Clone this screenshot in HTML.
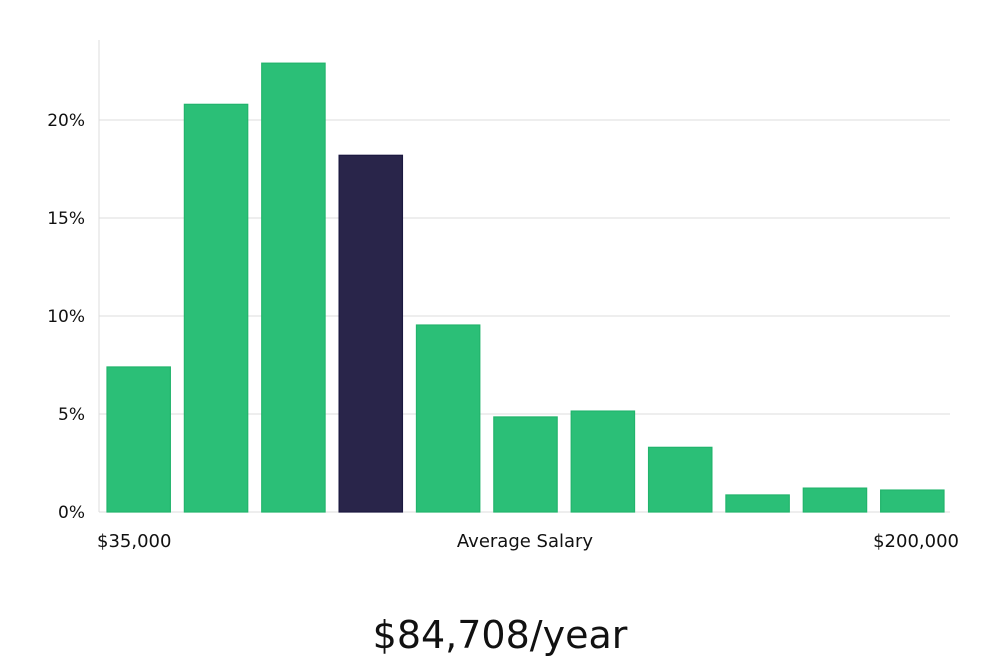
<!DOCTYPE html>
<html><head><meta charset="utf-8"><style>
html,body{margin:0;padding:0;background:#fff;width:1000px;height:660px;overflow:hidden}
svg{display:block}
text{font-family:"DejaVu Sans","Liberation Sans",sans-serif;fill:#111}
</style></head><body>
<svg id="chart" width="1000" height="660" xmlns="http://www.w3.org/2000/svg"></svg>
<script>
const values = [7.4, 20.8, 22.9, 18.2, 9.54, 4.85, 5.15, 3.3, 0.87, 1.22, 1.12];
const highlightIndex = [3];
const yTicks = [0, 5, 10, 15, 20];
const xLabels = ["$35,000", "Average Salary", "$200,000"];
const summaryText = ["$84,708/year"];

const svg = document.getElementById('chart');
const NS = 'http://www.w3.org/2000/svg';
const left = 99, right = 950, y0 = 512, pxPerPct = 19.6;
const step = (right - left) / values.length;
const yScale = v => y0 - v * pxPerPct;
const xBand = i => left + i * step + 8;
function mk(tag, attrs){const e=document.createElementNS(NS,tag);for(const k in attrs)e.setAttribute(k,attrs[k]);svg.appendChild(e);return e;}

yTicks.forEach(t=>{
  if(t>0){
    const g=mk('line',{x1:left,x2:right,y1:yScale(t),y2:yScale(t),stroke:'#dcdcdc','stroke-width':1});
    
    
  }
  const l=mk('text',{x:85,y:yScale(t)+6,'text-anchor':'end','font-size':17});
  l.textContent=t+'%';
  
  
});
const ax=mk('line',{x1:left,x2:left,y1:40,y2:y0,stroke:'#dcdcdc','stroke-width':1});


const bx=mk('line',{x1:left,x2:right,y1:y0,y2:y0,stroke:'#dcdcdc','stroke-width':1});



values.forEach((v,i)=>{
  const hi=highlightIndex.includes(i);
  const r=mk('rect',{x:xBand(i),y:yScale(v),width:step-14,height:y0-yScale(v),
    fill:hi?'#29254a':'#2bbf77',stroke:hi?'#1b1840':'#22b46c','stroke-width':1.2});
  
  
});

const xl=[[97,'start'],[525,'middle'],[959,'end']];
xLabels.forEach((s,i)=>{
  const t=mk('text',{x:xl[i][0],y:547,'text-anchor':xl[i][1],'font-size':18});
  t.textContent=s;
  
  
});
const st=mk('text',{x:500,y:648,'text-anchor':'middle','font-size':38,'font-family':'"Liberation Sans Narrow","DejaVu Sans Condensed","Liberation Sans",sans-serif'});
st.textContent=summaryText[0];


</script>
</body></html>
